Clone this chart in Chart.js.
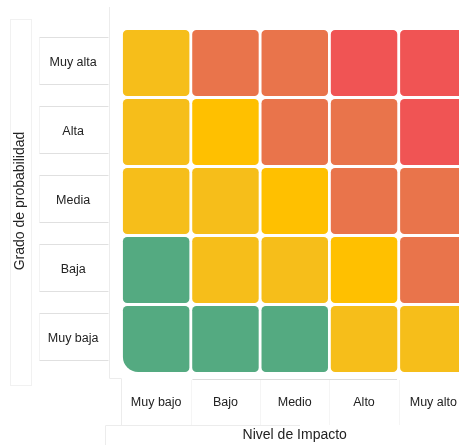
<!DOCTYPE html>
<html>
<head>
<meta charset="utf-8">
<script src="https://cdn.jsdelivr.net/npm/chart.js@4/dist/chart.umd.min.js"></script>
<style>
  html, body { margin: 0; padding: 0; background: #ffffff; overflow: hidden; }
  #wrap { width: 459px; height: 445px; overflow: hidden; position: relative; }
  #box { width: 468px; height: 445px; position: relative; }
  canvas { display: block; }
</style>
</head>
<body>
<div id="wrap"><div id="box"><canvas id="c"></canvas></div></div>
<script>
// ---- Data ----
const impactLabels = ['Muy bajo', 'Bajo', 'Medio', 'Alto', 'Muy alto'];
const probabilityLabels = ['Muy baja', 'Baja', 'Media', 'Alta', 'Muy alta']; // bottom -> top
const xTitle = 'Nivel de Impacto';
const yTitle = 'Grado de probabilidad';

// risk level per cell (1 = bajo ... 5 = extremo), one array per probability row, by impact column
const riskMuyBaja = [1, 1, 1, 2, 2];
const riskBaja    = [1, 2, 2, 3, 4];
const riskMedia   = [2, 2, 3, 4, 4];
const riskAlta    = [2, 3, 4, 4, 5];
const riskMuyAlta = [2, 4, 4, 5, 5];
const riskRows = [riskMuyBaja, riskBaja, riskMedia, riskAlta, riskMuyAlta];

// colour for each risk level
const levelColors = {1: '#54AA81', 2: '#F6BE1A', 3: '#FFC000', 4: '#E9744B', 5: '#F05454'};

// ---- Chart ----
const CELL_R = 6;
const framePlugin = {
  id: 'frame',
  beforeDraw(chart) {
    const ctx = chart.ctx;
    const xs = chart.scales.x, ys = chart.scales.y;
    ctx.save();
    ctx.lineWidth = 1;
    ctx.strokeStyle = '#ececec';
    ctx.beginPath();
    ctx.moveTo(109.5, 7); ctx.lineTo(109.5, 378.5); ctx.lineTo(121.5, 378.5); ctx.lineTo(121.5, 425.5);
    ctx.moveTo(105.5, 445); ctx.lineTo(105.5, 425.5); ctx.lineTo(300, 425.5);
    ctx.stroke();
    ctx.strokeStyle = '#f1f1f1';
    ctx.strokeRect(10.5, 19.5, 21, 366);
    probabilityLabels.forEach((l, i) => {
      const cy = ys.getPixelForValue(i + 0.5);
      const top = Math.round(cy - 26) + 0.5, bot = top + 47;
      ctx.strokeStyle = '#f3f3f3';
      ctx.beginPath();
      ctx.moveTo(39.5, top); ctx.lineTo(39.5, bot);
      ctx.stroke();
      ctx.strokeStyle = '#e0e0e0';
      ctx.beginPath();
      ctx.moveTo(39.5, top); ctx.lineTo(108.5, top);
      ctx.moveTo(39.5, bot); ctx.lineTo(108.5, bot);
      ctx.stroke();
    });
    ctx.strokeStyle = '#dcdcdc';
    ctx.beginPath();
    ctx.moveTo(xs.getPixelForValue(1) - 33, 379.5); ctx.lineTo(xs.getPixelForValue(3) + 33, 379.5);
    ctx.stroke();
    ctx.strokeStyle = '#f5f5f5';
    ctx.beginPath();
    for (let i = 1; i < impactLabels.length; i++) {
      const x = Math.round(xs.getPixelForValue(i) - 34.6) + 0.5;
      ctx.moveTo(x, 380); ctx.lineTo(x, 425);
    }
    ctx.stroke();
    ctx.restore();
  }
};

const datasets = probabilityLabels.map((p, r) => ({
  label: p,
  data: impactLabels.map(() => 1),
  backgroundColor: riskRows[r].map(v => levelColors[v]),
  borderColor: '#ffffff',
  borderWidth: 1.75,
  borderSkipped: false,
  borderRadius: (c) => (c.datasetIndex === 0 && c.dataIndex === 0)
    ? {topLeft: CELL_R, topRight: CELL_R, bottomLeft: 17, bottomRight: CELL_R}
    : {topLeft: CELL_R, topRight: CELL_R, bottomLeft: CELL_R, bottomRight: CELL_R},
  categoryPercentage: 1,
  barPercentage: 1
}));

const FONT = 'Liberation Sans, Arial, sans-serif';
new Chart(document.getElementById('c'), {
  type: 'bar',
  data: { labels: impactLabels, datasets },
  options: {
    responsive: true,
    maintainAspectRatio: false,
    animation: false,
    events: [],
    layout: { padding: { top: 28.5, right: 0, left: 0, bottom: 0 } },
    plugins: { legend: { display: false }, tooltip: { enabled: false } },
    scales: {
      x: {
        stacked: true,
        grid: { display: false, drawTicks: false },
        border: { display: false },
        ticks: { color: '#222222', font: { family: FONT, size: 12.5 }, padding: 22, maxRotation: 0, autoSkip: false },
        title: { display: true, text: xTitle, color: '#222222', font: { family: FONT, size: 14 }, padding: { top: 0, bottom: 1 } },
        afterFit: (s) => { s.height = 71.5; s.paddingLeft = 0; s.paddingRight = 0; }
      },
      y: {
        stacked: true,
        min: 0,
        max: 5,
        grid: { display: false, drawTicks: false },
        border: { display: false },
        afterBuildTicks: (s) => { s.ticks = probabilityLabels.map((_, i) => ({ value: i + 0.5 })); },
        ticks: {
          color: '#222222',
          font: { family: FONT, size: 12.5 },
          padding: 23,
          crossAlign: 'center',
          autoSkip: false,
          callback: (v) => probabilityLabels[Math.floor(v)]
        },
        title: { display: true, text: yTitle, color: '#222222', font: { family: FONT, size: 14 }, padding: { top: 12, bottom: 0 } },
        afterFit: (s) => { s.width = 121.5; s.paddingTop = 0; s.paddingBottom = 0; }
      }
    }
  },
  plugins: [framePlugin]
});
</script>
</body>
</html>
